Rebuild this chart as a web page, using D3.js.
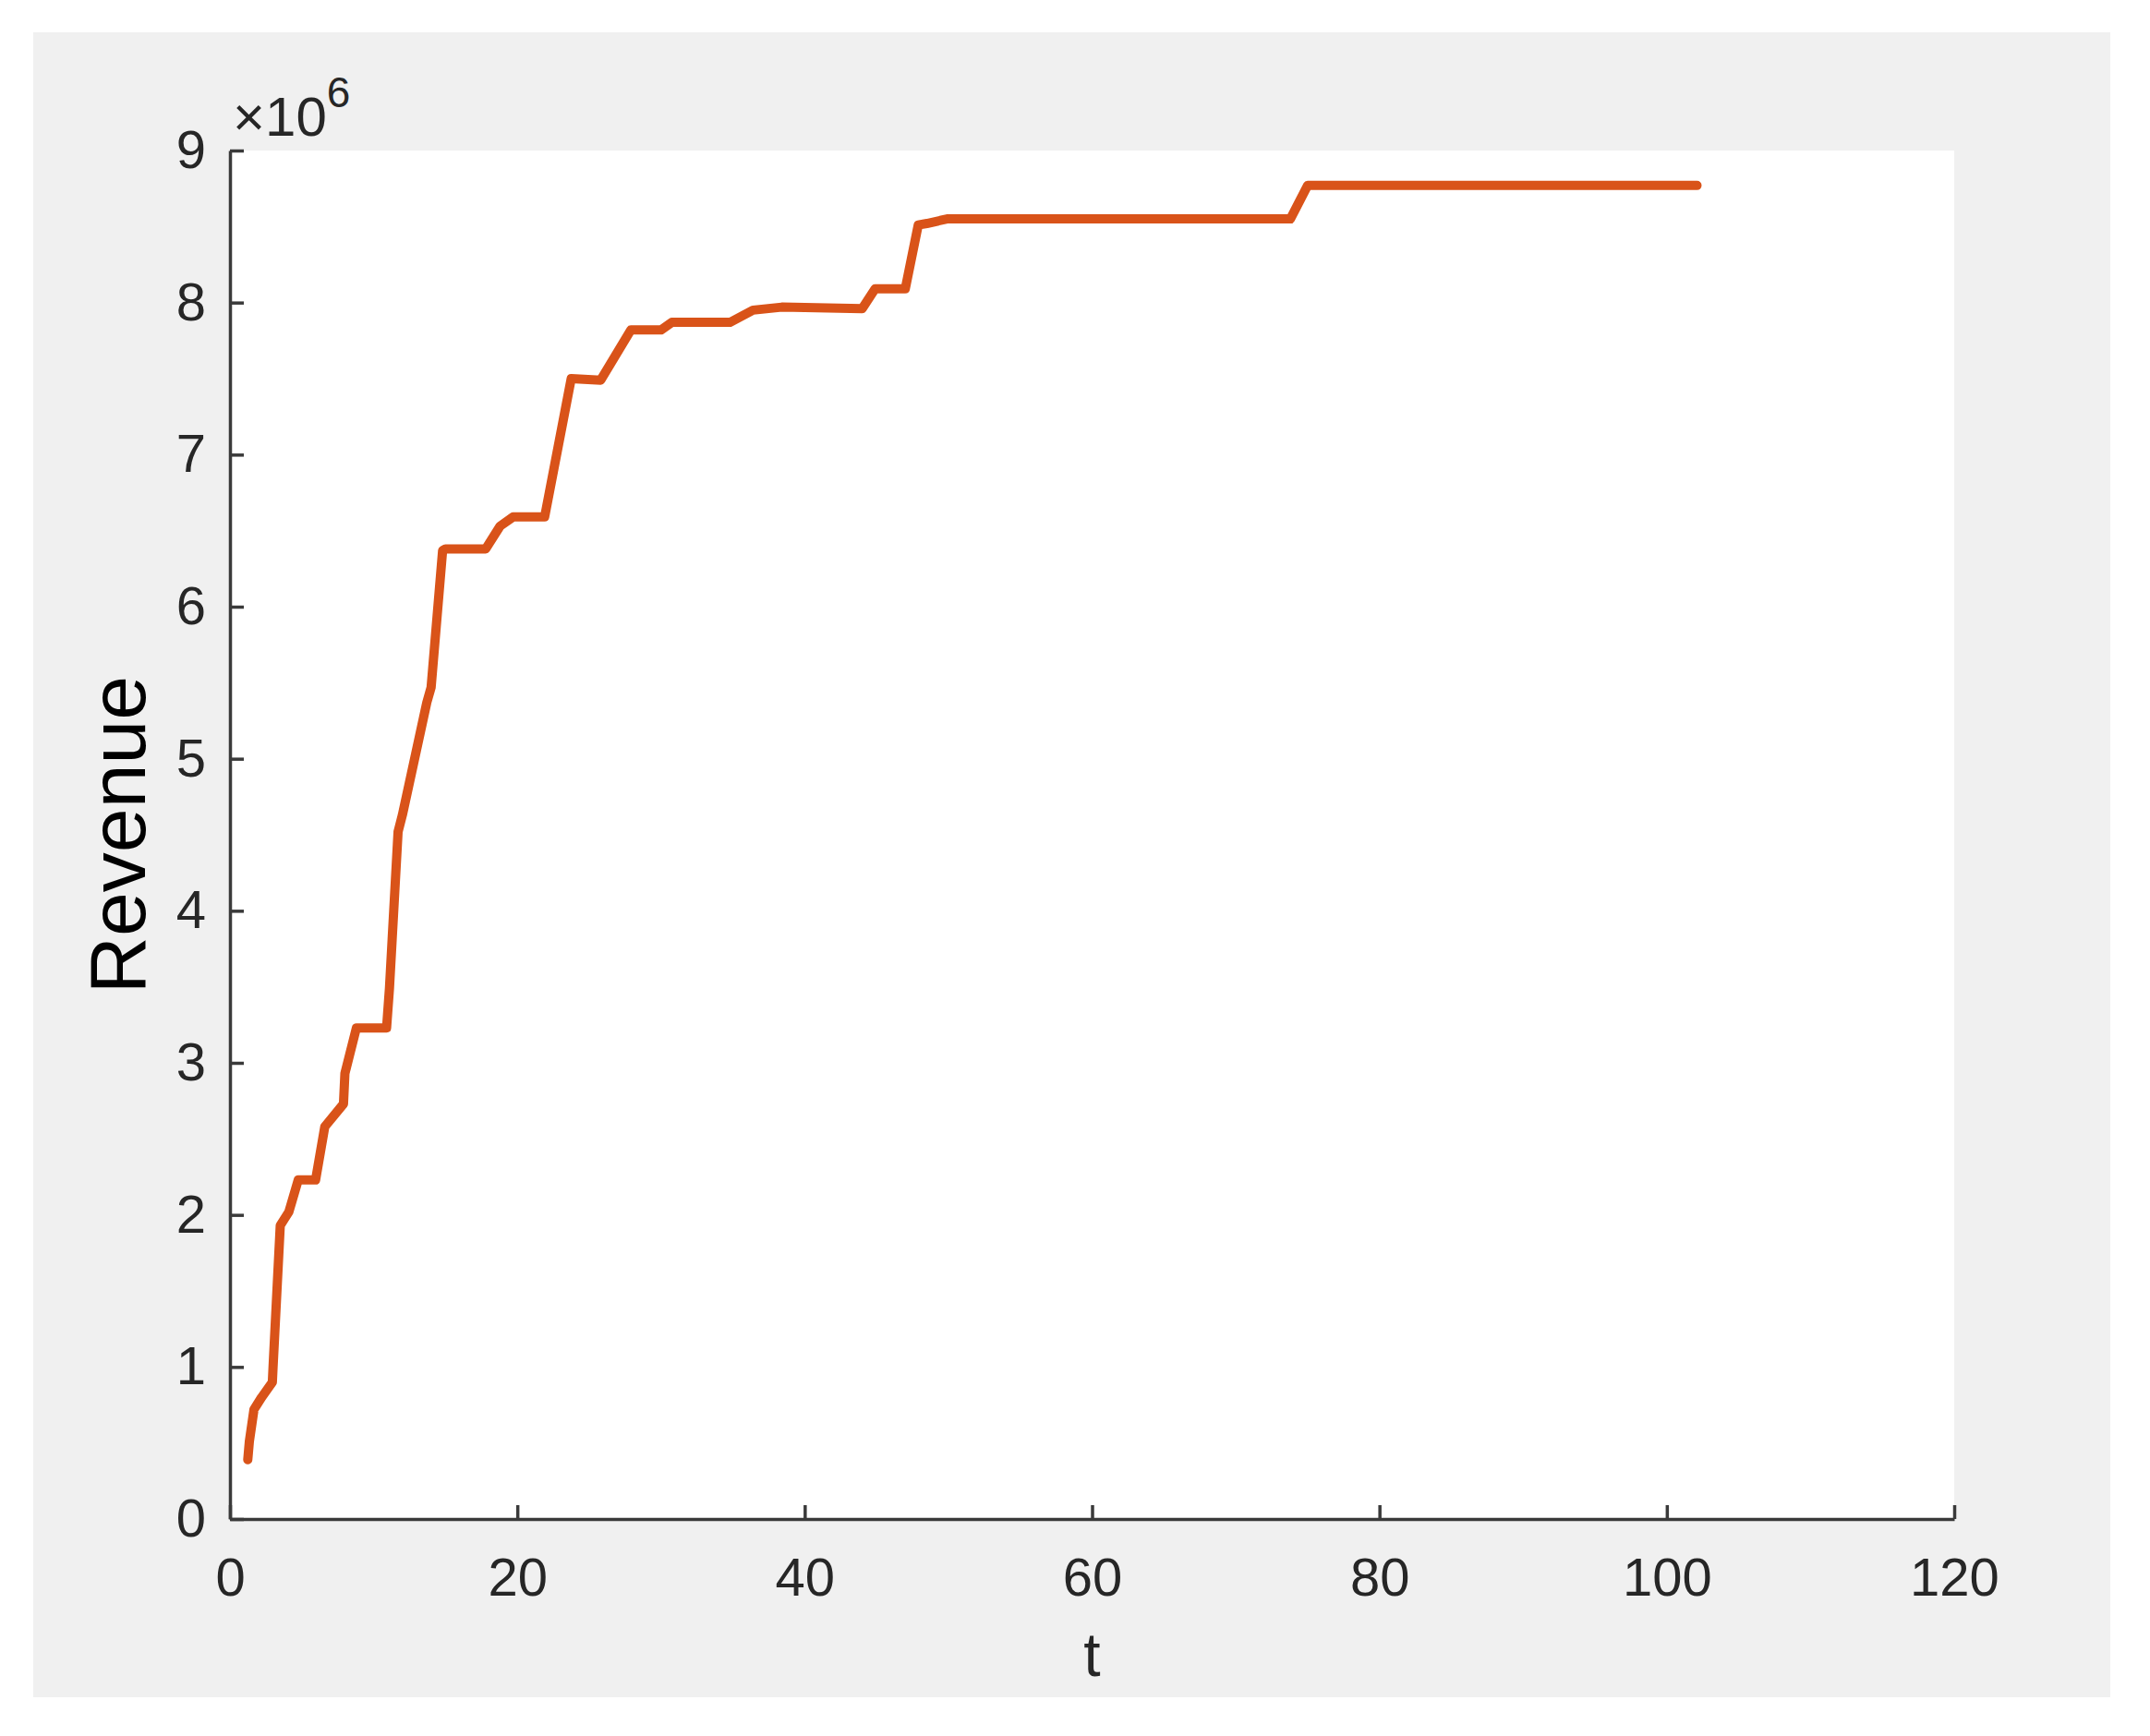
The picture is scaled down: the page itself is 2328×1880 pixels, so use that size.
<!doctype html>
<html lang='en'>

<head>
    <meta charset='UTF-8'>
    <title>Revenue over t</title>
    <style>
        html,
        body {
            margin: 0;
            background: #ffffff;
        }

        svg {
            display: block;
        }

        text {
            font-family: "Liberation Sans", Arial, Helvetica, sans-serif;
        }
    </style>
</head>

<body>
    <div class='chart'></div>
    <script src='https://cdn.jsdelivr.net/npm/d3@7/dist/d3.min.js'></script>
    <script>
        // time steps
        const tValues = [1.24, 1.35, 1.67, 2.2, 2.95, 3.0, 3.5, 4.1, 4.75, 5.96,
            6.6, 7.9, 8.0, 8.8, 10.9, 11.1, 11.7, 12.0, 13.7, 14.0,
            14.8, 15.0, 17.8, 18.8, 19.7, 21.9, 23.75, 25.8, 27.9, 30.0,
            30.75, 34.8, 36.4, 38.4, 44.0, 44.9, 47.0, 47.9, 48.5, 49.9,
            73.8, 75.0, 102.1];

        // revenue, in units of 10^6
        const revenueValues = [0.39, 0.51, 0.72, 0.80, 0.90, 1.00, 1.93, 2.02, 2.23, 2.23,
            2.58, 2.73, 2.93, 3.23, 3.23, 3.49, 4.52, 4.63, 5.37, 5.47,
            6.37, 6.38, 6.38, 6.53, 6.59, 6.59, 7.50, 7.49, 7.82, 7.82,
            7.87, 7.87, 7.95, 7.97, 7.96, 8.09, 8.09, 8.51, 8.52, 8.55,
            8.55, 8.77, 8.77];

        const xTicks = [0, 20, 40, 60, 80, 100, 120];
        const yTicks = [0, 1, 2, 3, 4, 5, 6, 7, 8, 9];

        const config = {
            width: 2328,
            height: 1880,
            frame: {x: 36, y: 35, w: 2249, h: 1803, color: '#f0f0f0'},
            plot: {left: 249, top: 163, right: 2116, bottom: 1645},
            axisColor: '#3a3a3a',
            axisWidth: 3.5,
            tickLength: 15,
            tickFont: 58,
            textColor: '#262626',
            lineColor: '#D95319',
            lineWidth: 10
        };

        const {plot} = config;

        const svg = d3.select('.chart')
            .append('svg')
            .attr('width', config.width)
            .attr('height', config.height);

        // grey figure background and white axes area
        svg.append('rect')
            .attr('x', config.frame.x)
            .attr('y', config.frame.y)
            .attr('width', config.frame.w)
            .attr('height', config.frame.h)
            .attr('fill', config.frame.color);

        svg.append('rect')
            .attr('x', plot.left)
            .attr('y', plot.top)
            .attr('width', plot.right - plot.left)
            .attr('height', plot.bottom - plot.top)
            .attr('fill', '#ffffff');

        const x = d3.scaleLinear()
            .domain([0, 120])
            .range([plot.left, plot.right]);

        const y = d3.scaleLinear()
            .domain([0, 9])
            .range([plot.bottom, plot.top]);

        const xAxis = d3.axisBottom(x)
            .tickValues(xTicks)
            .tickSizeInner(-config.tickLength)
            .tickSizeOuter(0)
            .tickPadding(42)
            .tickFormat(d3.format('d'));

        const yAxis = d3.axisLeft(y)
            .tickValues(yTicks)
            .tickSizeInner(-config.tickLength)
            .tickSizeOuter(0)
            .tickPadding(26)
            .tickFormat(d3.format('d'));

        const gx = svg.append('g')
            .attr('transform', 'translate(0,' + plot.bottom + ')')
            .call(xAxis);

        const gy = svg.append('g')
            .attr('transform', 'translate(' + plot.left + ',0)')
            .call(yAxis);

        [gx, gy].forEach((g) => {
            g.select('.domain')
                .attr('stroke', config.axisColor)
                .attr('stroke-width', config.axisWidth);
            g.selectAll('.tick line')
                .attr('stroke', config.axisColor)
                .attr('stroke-width', config.axisWidth);
            g.selectAll('.tick text')
                .attr('fill', config.textColor)
                .style('font-size', config.tickFont + 'px')
                .style('font-family', '"Liberation Sans", Arial, sans-serif');
        });

        // revenue curve
        const points = tValues.map((t, i) => [t, revenueValues[i]]);

        const line = d3.line()
            .x((d) => x(d[0]))
            .y((d) => y(d[1]));

        svg.append('path')
            .datum(points)
            .attr('d', line)
            .attr('fill', 'none')
            .attr('stroke', config.lineColor)
            .attr('stroke-width', config.lineWidth)
            .attr('stroke-linejoin', 'round')
            .attr('stroke-linecap', 'round');

        // exponent marker above the y axis
        const expo = svg.append('text')
            .attr('x', 252)
            .attr('y', 147)
            .attr('fill', config.textColor)
            .style('font-size', '60px');
        expo.append('tspan').text('×10');
        expo.append('tspan')
            .attr('dy', -31)
            .style('font-size', '46px')
            .text('6');

        // axis labels
        svg.append('text')
            .attr('transform', 'translate(157,' + ((plot.top + plot.bottom) / 2) + ') rotate(-90)')
            .attr('text-anchor', 'middle')
            .attr('fill', '#000000')
            .style('font-size', '86px')
            .text('Revenue');

        svg.append('text')
            .attr('x', (plot.left + plot.right) / 2)
            .attr('y', 1815)
            .attr('text-anchor', 'middle')
            .attr('fill', config.textColor)
            .style('font-size', '66px')
            .text('t');
    </script>
</body>
</html>
